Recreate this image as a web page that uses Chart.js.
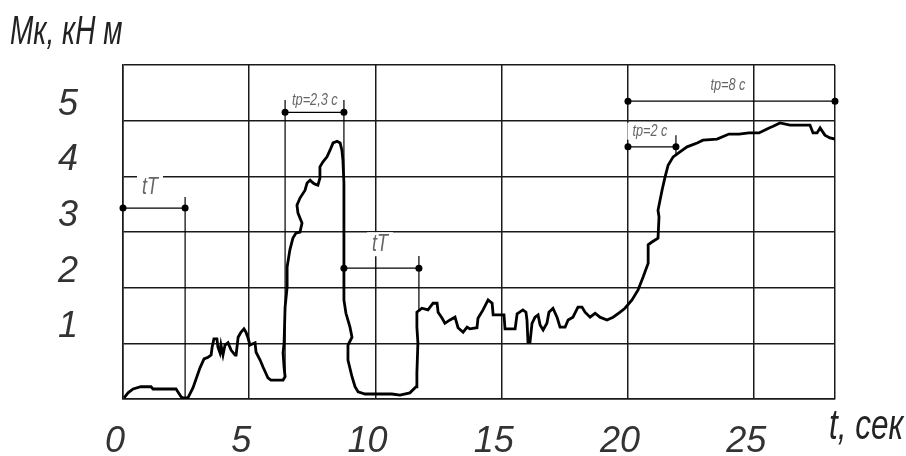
<!DOCTYPE html>
<html>
<head>
<meta charset="utf-8">
<script src="https://cdn.jsdelivr.net/npm/chart.js@4"></script>
<style>
  body { margin: 0; background: #fff; }
  #wrap { width: 906px; height: 456px; }
</style>
</head>
<body>
<div id="wrap"><canvas id="torqueChart"></canvas></div>
<script>
// Torque trace (t in s, Mk in kN m)
const timeSec = [0.04,0.20,0.40,0.71,1.11,1.19,2.10,2.30,2.38,2.57,2.77,3.05,3.21,3.37,3.49,3.53,3.60,3.72,3.76,3.84,
  3.88,3.96,4.04,4.16,4.28,4.44,4.48,4.56,4.67,4.79,4.87,4.95,5.03,5.23,5.27,5.43,5.55,5.74,5.86,6.34,
  6.42,6.38,6.34,6.38,6.42,6.50,6.50,6.61,6.73,6.85,7.01,7.09,6.93,6.89,7.01,7.21,7.29,7.41,7.53,7.61,
  7.72,7.80,7.80,7.92,8.08,8.20,8.32,8.48,8.60,8.67,8.71,8.75,8.75,8.75,8.83,8.99,9.07,8.91,8.91,9.07,
  9.19,9.31,9.59,10.06,10.65,10.97,11.36,11.61,11.64,11.68,11.64,11.64,11.84,12.08,12.28,12.44,12.48,12.64,12.75,12.95,
  13.15,13.27,13.47,13.63,13.74,14.02,14.06,14.26,14.46,14.62,14.66,14.93,15.09,15.13,15.53,15.61,15.84,15.96,16.00,16.04,
  16.12,16.20,16.32,16.44,16.52,16.64,16.79,16.87,17.03,17.19,17.31,17.51,17.63,17.82,18.02,18.18,18.30,18.50,18.70,18.89,
  19.17,19.41,19.69,19.88,20.16,20.40,20.60,20.80,20.80,20.95,21.19,21.23,21.19,21.35,21.47,21.59,21.79,22.06,22.34,22.74,
  22.97,23.53,24.00,24.40,24.79,25.19,25.59,25.75,26.02,26.42,27.21,27.33,27.49,27.61,27.80,28.00,28.20];
const torque = [0.02,0.11,0.18,0.22,0.22,0.18,0.18,0.04,0.02,0.02,0.20,0.56,0.72,0.75,0.79,0.93,1.08,1.08,0.93,0.83,
  0.97,0.79,0.97,1.01,0.88,0.79,0.79,1.11,1.20,1.26,1.20,1.10,0.97,1.01,0.84,0.70,0.57,0.38,0.34,0.34,
  0.40,0.57,0.83,1.01,1.65,2.01,2.37,2.68,2.89,2.98,3.00,3.16,3.34,3.48,3.61,3.75,3.88,3.93,3.88,3.86,
  3.84,3.97,4.17,4.26,4.35,4.47,4.60,4.63,4.60,4.47,4.29,3.88,2.98,1.78,1.54,1.29,1.11,0.97,0.70,0.40,
  0.22,0.13,0.09,0.09,0.09,0.07,0.11,0.22,0.47,1.01,1.29,1.56,1.63,1.60,1.72,1.72,1.56,1.45,1.36,1.42,
  1.47,1.28,1.20,1.29,1.26,1.28,1.45,1.60,1.78,1.72,1.51,1.51,1.51,1.26,1.26,1.53,1.60,1.56,1.42,1.02,
  1.02,1.36,1.47,1.51,1.33,1.24,1.36,1.56,1.63,1.47,1.29,1.29,1.42,1.47,1.65,1.65,1.56,1.47,1.54,1.47,
  1.42,1.47,1.56,1.63,1.78,1.96,2.19,2.44,2.77,2.82,2.89,3.27,3.39,3.75,3.99,4.20,4.35,4.44,4.53,4.60,
  4.65,4.67,4.76,4.76,4.78,4.78,4.87,4.90,4.96,4.92,4.92,4.78,4.78,4.87,4.74,4.69,4.67];

const xTicks = [0, 5, 10, 15, 20, 25];
const xMax = 28.2;
const yTicks = [1, 2, 3, 4, 5];

// dimension marks: label, from t, to t, level, label anchor (t, Mk)
const dimText  = ['tT', 'tp=2,3 c', 'tT', 'tp=8 c', 'tp=2 c'];
const dimFrom  = [0, 6.42, 8.75, 20, 20];
const dimTo    = [2.46, 8.75, 11.72, xMax, 21.9];
const dimLevel = [3.43, 5.15, 2.35, 5.35, 4.53];
const dimTextX = [1.07, 7.60, 10.18, 23.96, 20.87];
const dimTextY = [3.81, 5.37, 2.78, 5.64, 4.81];
// extension lines: t, Mk top, Mk bottom
const extT   = [2.46, 6.42, 8.75, 11.72, 21.9];
const extTop = [3.63, 5.37, 5.37, 2.57, 4.74];
const extBot = [0, 0.40, 1.78, 1.60, 4.38];

const FONT = "'Liberation Sans', Arial, sans-serif";

const datasets = [{
  data: timeSec.map((t, i) => ({x: t, y: torque[i]})),
  borderColor: '#000',
  borderWidth: 2.8,
  pointRadius: 0,
  tension: 0
}];
dimText.forEach((s, i) => {
  datasets.push({
    data: [{x: dimFrom[i], y: dimLevel[i]}, {x: dimTo[i], y: dimLevel[i]}],
    borderColor: '#000', borderWidth: 1.2,
    pointRadius: 3.5, pointBackgroundColor: '#000', pointBorderWidth: 0,
    clip: false
  });
});
extT.forEach((t, i) => {
  datasets.push({
    data: [{x: t, y: extTop[i]}, {x: t, y: extBot[i]}],
    borderColor: '#000', borderWidth: 1.2, pointRadius: 0, clip: false
  });
});

// narrow italic text, like the drafting font of the original
function narrowText(ctx, s, px, py, size, align, squeeze) {
  ctx.save();
  ctx.font = 'italic ' + size + 'px ' + FONT;
  ctx.translate(px, py);
  ctx.scale(squeeze, 1);
  ctx.textAlign = align;
  ctx.fillText(s, 0, 0);
  ctx.restore();
}

const notes = {
  id: 'notes',
  afterDatasetsDraw(chart) {
    const {ctx, scales: {x, y}} = chart;
    ctx.save();
    ctx.textBaseline = 'middle';
    dimText.forEach((s, i) => {
      const size = s === 'tT' ? 24 : 17;
      ctx.font = 'italic ' + size + 'px ' + FONT;
      const px = x.getPixelForValue(dimTextX[i]);
      const py = y.getPixelForValue(dimTextY[i]);
      const w = ctx.measureText(s).width * 0.75;
      ctx.fillStyle = '#fff';
      ctx.fillRect(px - w / 2 - 5, py - size / 2, w + 10, size);
      ctx.fillStyle = '#666';
      narrowText(ctx, s, px, py, size, 'center', 0.75);
    });
    // axis captions
    ctx.fillStyle = '#222';
    ctx.textBaseline = 'alphabetic';
    narrowText(ctx, 'Мк, кН м', 10, 44, 40, 'left', 0.7);
    narrowText(ctx, 't, сек', 829, 439, 42, 'left', 0.75);
    ctx.restore();
  }
};

new Chart(document.getElementById('torqueChart'), {
  type: 'line',
  data: {datasets: datasets},
  options: {
    responsive: true,
    maintainAspectRatio: false,
    animation: false,
    layout: {padding: {top: 65, right: 71, left: 0, bottom: 0}},
    plugins: {legend: {display: false}, tooltip: {enabled: false}},
    scales: {
      x: {
        type: 'linear', min: 0, max: xMax,
        afterBuildTicks: (s) => { s.ticks = xTicks.concat([xMax]).map(v => ({value: v})); },
        afterFit: (s) => { s.height = 57; },
        grid: {color: '#1a1a1a', lineWidth: 1.5, drawTicks: false},
        border: {color: '#1a1a1a', width: 1.5},
        ticks: {
          callback: (v) => (xTicks.includes(v) ? String(v) : ''),
          font: {family: FONT, size: 36, style: 'italic'},
          color: '#333', padding: 21, labelOffset: -8, maxRotation: 0, autoSkip: false
        }
      },
      y: {
        type: 'linear', min: 0, max: 6,
        afterBuildTicks: (s) => { s.ticks = [0].concat(yTicks, [6]).map(v => ({value: v})); },
        afterFit: (s) => { s.width = 123; },
        grid: {color: '#1a1a1a', lineWidth: 1.5, drawTicks: false},
        border: {color: '#1a1a1a', width: 1.5},
        ticks: {
          callback: (v) => (yTicks.includes(v) ? String(v) : ''),
          font: {family: FONT, size: 36, style: 'italic', lineHeight: 0.6},
          color: '#333', padding: 45, labelOffset: -16
        }
      }
    }
  },
  plugins: [notes]
});
</script>
</body>
</html>
